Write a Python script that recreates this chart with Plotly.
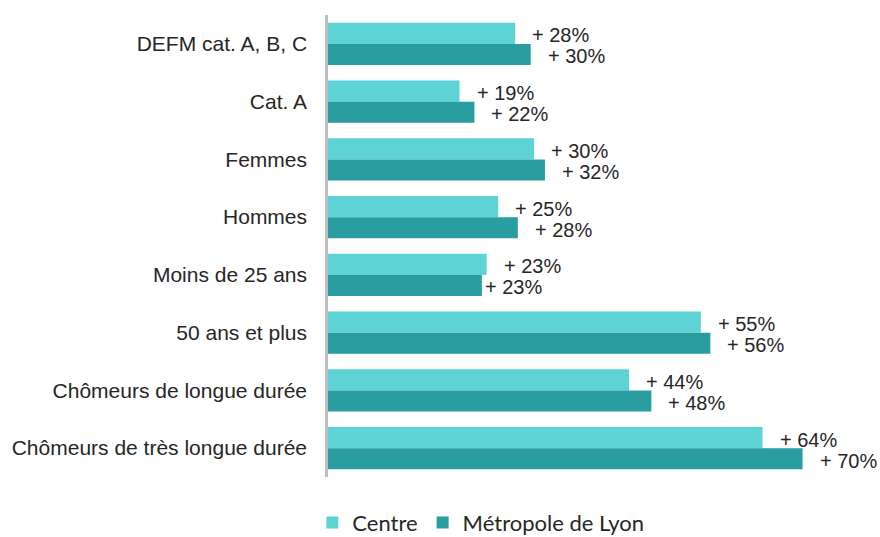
import plotly.graph_objects as go

# Categories, top to bottom
categories = [
    "DEFM cat. A, B, C",
    "Cat. A",
    "Femmes",
    "Hommes",
    "Moins de 25 ans",
    "50 ans et plus",
    "Chômeurs de longue durée",
    "Chômeurs de très longue durée",
]

# Evolution (%) by series
centre = [27.6, 19.4, 30.4, 25.1, 23.4, 55.0, 44.4, 64.1]
lyon = [29.9, 21.6, 32.0, 28.0, 22.7, 56.4, 47.7, 70.0]

series_names = ["Centre", "Métropole de Lyon"]
colors = ["#5DD3D5", "#2A9DA0"]

label_font = "Liberation Sans, Arial, sans-serif"
text_color = "#262626"

bargap = 0.272
bar_w = (1 - bargap) / 2

fig = go.Figure()
for name, vals, col in zip(series_names, [centre, lyon], colors):
    fig.add_trace(go.Bar(
        y=categories, x=vals, name=name, orientation="h",
        marker=dict(color=col, line=dict(width=0)),
        hoverinfo="x+name",
    ))

# Value labels placed just right of each bar end
annotations = []
for s, vals in enumerate([centre, lyon]):
    offset = (-0.5 + s) * bar_w
    for i, v in enumerate(vals):
        shift = 15
        if s == 1 and categories[i] == "Moins de 25 ans":
            shift = 1
        annotations.append(dict(
            x=v, y=i + offset, xref="x", yref="y",
            text=f"+ {v:.0f}%", showarrow=False,
            xanchor="left", yanchor="middle", xshift=shift, yshift=-2,
            font=dict(family=label_font, size=20, color=text_color),
        ))

fig.update_layout(
    width=880, height=537,
    margin=dict(l=328, r=30, t=15, b=60, autoexpand=False),
    paper_bgcolor="white", plot_bgcolor="white",
    barmode="group", bargap=bargap, bargroupgap=0,
    annotations=annotations,
    showlegend=True,
    legend=dict(
        orientation="h", x=-0.03, xanchor="left", y=-0.099, yanchor="middle",
        font=dict(family="Lato, Carlito, sans-serif", size=22, color=text_color),
        traceorder="normal", itemclick=False,
    ),
    xaxis=dict(range=[0, 77.0], visible=False, fixedrange=True),
    yaxis=dict(
        type="category", categoryorder="array", categoryarray=categories,
        autorange="reversed", showgrid=False, zeroline=False,
        showline=True, linecolor="#BFBFBF", linewidth=2.5,
        ticks="", ticklabelstandoff=14,
        tickfont=dict(family=label_font, size=21, color=text_color),
    ),
)

fig.write_html("out.html")
